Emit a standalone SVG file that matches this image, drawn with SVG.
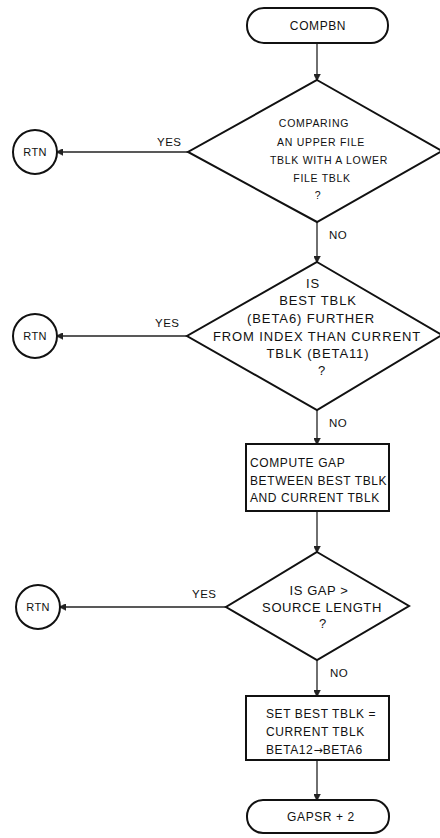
<svg xmlns="http://www.w3.org/2000/svg" width="440" height="838" viewBox="0 0 440 838">
  <style>
    .shape { fill: #ffffff; stroke: #111111; stroke-width: 2; }
    .conn { fill: none; stroke: #222222; stroke-width: 1.3; }
    text { font-family: "Liberation Sans", Arial, sans-serif; fill: #111111; text-anchor: middle; }
    .t11 { font-size: 10.5px; letter-spacing: 0.7px; }
    .t12 { font-size: 12px; letter-spacing: 0.6px; }
    .t13 { font-size: 13px; letter-spacing: 0.9px; }
    .t13b { font-size: 13px; letter-spacing: 0.6px; }
    .rtn { font-size: 11px; letter-spacing: 0.3px; }
    .lbl { font-size: 11.5px; letter-spacing: 0.5px; text-anchor: start; }
    .left { text-anchor: start; }
    .arr { font-family: "DejaVu Sans", sans-serif; font-size: 11px; letter-spacing: 0; }
  </style>
  <defs>
    <marker id="arrow" viewBox="0 0 10 10" refX="9" refY="5" markerWidth="7" markerHeight="7" markerUnits="userSpaceOnUse" orient="auto">
      <path d="M0,0 L10,5 L0,10 Z" fill="#222222" stroke="#222222" stroke-width="1"/>
    </marker>
  </defs>

  <rect width="440" height="838" fill="#ffffff"/>

  <!-- connectors -->
  <g id="connectors">
    <line class="conn" x1="317" y1="43" x2="317" y2="80" marker-end="url(#arrow)"/>
    <line class="conn" x1="188" y1="152" x2="57" y2="152" marker-end="url(#arrow)"/>
    <line class="conn" x1="317" y1="222" x2="317" y2="262" marker-end="url(#arrow)"/>
    <line class="conn" x1="187" y1="336" x2="57" y2="336" marker-end="url(#arrow)"/>
    <line class="conn" x1="317" y1="410" x2="317" y2="444" marker-end="url(#arrow)"/>
    <line class="conn" x1="317" y1="511" x2="317" y2="552" marker-end="url(#arrow)"/>
    <line class="conn" x1="226" y1="607" x2="60" y2="607" marker-end="url(#arrow)"/>
    <line class="conn" x1="317" y1="660" x2="317" y2="696" marker-end="url(#arrow)"/>
    <line class="conn" x1="317" y1="760" x2="317" y2="800" marker-end="url(#arrow)"/>
    <text class="lbl" x="157" y="146">YES</text>
    <text class="lbl" x="329" y="239">NO</text>
    <text class="lbl" x="155" y="327">YES</text>
    <text class="lbl" x="329" y="427">NO</text>
    <text class="lbl" x="192" y="598">YES</text>
    <text class="lbl" x="330" y="677">NO</text>
  </g>

  <!-- entry terminal -->
  <g id="start">
    <rect class="shape" x="247" y="8" width="141" height="35" rx="17" ry="17"/>
    <text class="t12" x="318" y="30">COMPBN</text>
  </g>

  <!-- decision: upper vs lower file -->
  <g id="dec-upper-lower">
    <polygon class="shape" points="317,80 442,151 317,222 188,152"/>
    <text class="t11" x="314" y="127">COMPARING</text>
    <text class="t11" x="321" y="146">AN UPPER FILE</text>
    <text class="t11" x="329" y="164">TBLK WITH A LOWER</text>
    <text class="t11" x="322" y="182">FILE TBLK</text>
    <text class="t11" x="318" y="199">?</text>
  </g>
  <g id="rtn1">
    <circle class="shape" cx="35" cy="152" r="22"/>
    <text class="rtn" x="35" y="156">RTN</text>
  </g>

  <!-- decision: best tblk further from index -->
  <g id="dec-further">
    <polygon class="shape" points="317,262 442,335 317,410 187,336"/>
    <text class="t13" x="313" y="288">IS</text>
    <text class="t13" x="318" y="305">BEST TBLK</text>
    <text class="t13" x="311" y="323">(BETA6) FURTHER</text>
    <text class="t13" x="317" y="341">FROM INDEX THAN CURRENT</text>
    <text class="t13" x="318" y="358">TBLK (BETA11)</text>
    <text class="t13" x="322" y="375">?</text>
  </g>
  <g id="rtn2">
    <circle class="shape" cx="35" cy="336" r="22"/>
    <text class="rtn" x="35" y="340">RTN</text>
  </g>

  <!-- process: compute gap -->
  <g id="compute-gap">
    <rect class="shape" x="246" y="444" width="143" height="67"/>
    <text class="t12 left" x="250" y="467">COMPUTE GAP</text>
    <text class="t12 left" x="250" y="485">BETWEEN BEST TBLK</text>
    <text class="t12 left" x="250" y="502">AND CURRENT TBLK</text>
  </g>

  <!-- decision: gap vs source length -->
  <g id="dec-gap">
    <polygon class="shape" points="317,552 409,606 317,660 226,607"/>
    <text class="t13b" x="319" y="595">IS GAP &gt;</text>
    <text class="t13b" x="322" y="612">SOURCE LENGTH</text>
    <text class="t13b" x="323" y="628">?</text>
  </g>
  <g id="rtn3">
    <circle class="shape" cx="38" cy="607" r="22"/>
    <text class="rtn" x="38" y="611">RTN</text>
  </g>

  <!-- process: set best tblk -->
  <g id="set-best">
    <rect class="shape" x="246" y="696" width="143" height="64"/>
    <text class="t12 left" x="266" y="718">SET BEST TBLK =</text>
    <text class="t12 left" x="266" y="736">CURRENT TBLK</text>
    <text class="t12 left" x="266" y="754">BETA12<tspan class="arr">→</tspan>BETA6</text>
  </g>

  <!-- exit terminal -->
  <g id="end">
    <rect class="shape" x="247" y="800" width="142" height="33" rx="16" ry="16"/>
    <text class="t12" x="321" y="821">GAPSR + 2</text>
  </g>
</svg>
